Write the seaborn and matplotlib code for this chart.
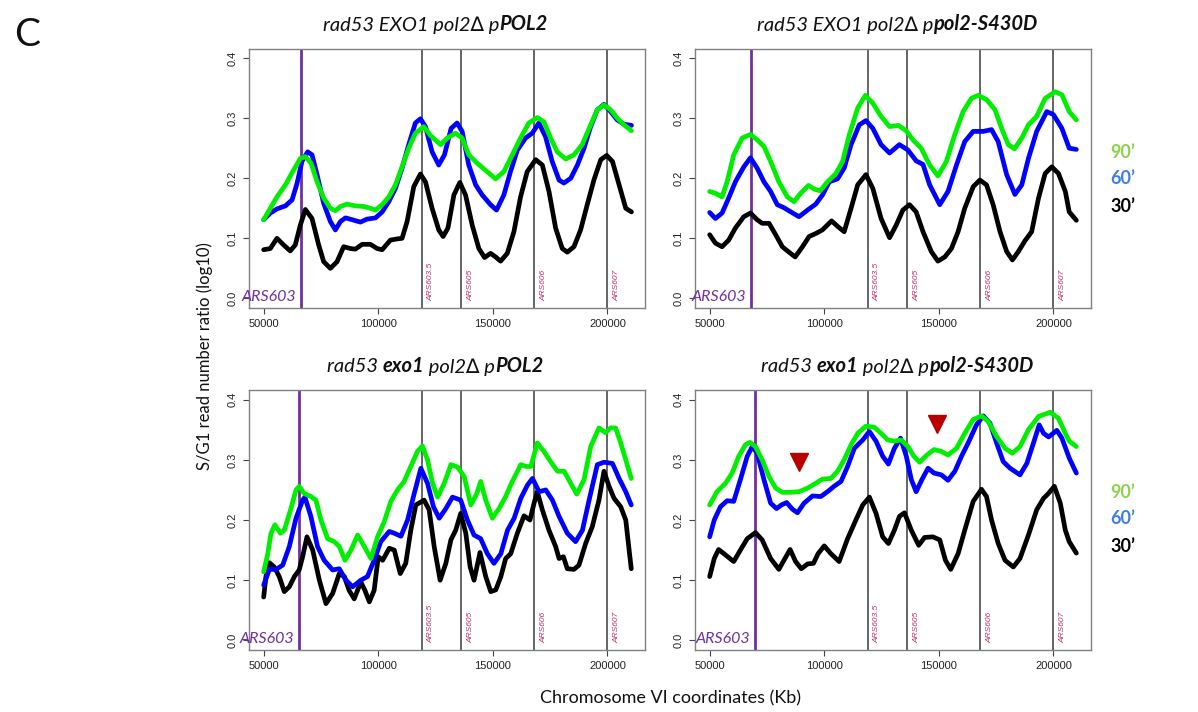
import numpy as np
import pandas as pd
import seaborn as sns
from matplotlib import pyplot as plt
from matplotlib import transforms

sns.set_theme(style="white")
plt.rcParams['font.family'] = ['Lato', 'DejaVu Sans']

# chromosome VI position (kb), S/G1 ratio (log10)
p1_30 = [(50, 0.081), (52.9, 0.083), (55.8, 0.100), (58.7, 0.089), (61.6, 0.079), (63.8, 0.089), (66.0, 0.122),
         (68.2, 0.148), (71.1, 0.133), (74.0, 0.089), (76.2, 0.061), (79.1, 0.050), (82.0, 0.061), (84.9, 0.086),
         (87.9, 0.083), (90.0, 0.082), (93.0, 0.090), (96.6, 0.090), (99.5, 0.083), (101.7, 0.081), (105.3, 0.097),
         (108.2, 0.099), (110.4, 0.100), (112.6, 0.128), (115.5, 0.186), (118.4, 0.207), (120.6, 0.194),
         (123.5, 0.150), (126.4, 0.114), (128.3, 0.103), (130.4, 0.117), (133.0, 0.172), (135.6, 0.193),
         (138.1, 0.172), (141.0, 0.122), (143.9, 0.083), (146.4, 0.068), (149.0, 0.075), (151.2, 0.069),
         (153.4, 0.062), (156.3, 0.075), (159.2, 0.111), (162.1, 0.169), (165.0, 0.211), (168.7, 0.231),
         (171.6, 0.222), (174.5, 0.178), (177.4, 0.117), (180.3, 0.083), (182.5, 0.077), (185.4, 0.086),
         (188.3, 0.114), (191.2, 0.156), (194.1, 0.197), (197.1, 0.231), (199.7, 0.238), (202.2, 0.228),
         (205.1, 0.189), (208.0, 0.150), (210.5, 0.144)]
p1_60 = [(50, 0.131), (52.9, 0.142), (55.8, 0.149), (59.5, 0.154), (62.4, 0.164), (64.6, 0.192), (66.7, 0.228),
         (69.2, 0.244), (71.1, 0.239), (73.3, 0.206), (76.2, 0.158), (79.1, 0.128), (81.3, 0.114), (83.5, 0.128),
         (85.7, 0.134), (88.6, 0.131), (92.2, 0.127), (95.1, 0.132), (98.8, 0.134), (101.7, 0.144), (104.6, 0.161),
         (107.5, 0.183), (110.4, 0.217), (113.3, 0.256), (116.2, 0.292), (118.4, 0.299), (120.6, 0.286),
         (123.5, 0.244), (126.4, 0.222), (128.9, 0.239), (131.8, 0.283), (134.4, 0.292), (136.6, 0.278),
         (139.5, 0.222), (142.5, 0.189), (145.4, 0.172), (149.0, 0.156), (151.6, 0.147), (154.8, 0.172),
         (157.7, 0.211), (160.7, 0.247), (164.3, 0.267), (167.2, 0.275), (170.1, 0.292), (173.0, 0.269),
         (175.9, 0.228), (178.9, 0.197), (181.0, 0.192), (184.0, 0.200), (186.9, 0.222), (189.8, 0.250),
         (192.7, 0.286), (195.6, 0.314), (198.5, 0.323), (201.4, 0.311), (204.3, 0.297), (207.2, 0.290),
         (210.5, 0.288)]
p1_90 = [(50, 0.131), (52.9, 0.150), (55.8, 0.169), (59.5, 0.189), (63.1, 0.214), (66.0, 0.233), (68.2, 0.236),
         (70.7, 0.225), (73.3, 0.194), (76.2, 0.167), (79.1, 0.150), (81.3, 0.146), (83.5, 0.153), (86.4, 0.157),
         (90.0, 0.154), (93.7, 0.153), (96.6, 0.150), (98.8, 0.147), (101.7, 0.156), (104.6, 0.169), (107.5, 0.189),
         (110.4, 0.219), (113.3, 0.250), (116.2, 0.275), (119.9, 0.286), (122.8, 0.271), (127.2, 0.256),
         (130.1, 0.267), (133.7, 0.275), (136.6, 0.267), (139.5, 0.239), (143.2, 0.225), (147.5, 0.211),
         (151.2, 0.199), (154.8, 0.211), (158.5, 0.239), (162.1, 0.267), (165.7, 0.292), (169.4, 0.301),
         (172.3, 0.294), (175.2, 0.267), (178.1, 0.244), (181.8, 0.232), (185.4, 0.239), (189.0, 0.256),
         (192.7, 0.289), (195.6, 0.314), (198.5, 0.322), (201.4, 0.314), (204.3, 0.300), (207.2, 0.289),
         (210.5, 0.279)]

p2_30 = [(50, 0.106), (52.5, 0.092), (55.4, 0.086), (58.3, 0.097), (61.2, 0.117), (64.9, 0.136), (67.8, 0.142),
         (70.7, 0.131), (72.9, 0.125), (75.9, 0.125), (78.8, 0.106), (81.7, 0.086), (84.6, 0.077), (87.3, 0.069),
         (90.5, 0.086), (93.4, 0.103), (96.3, 0.108), (99.2, 0.114), (103.2, 0.129), (106.1, 0.119), (108.7, 0.111),
         (111.7, 0.150), (114.6, 0.189), (118.2, 0.206), (121.2, 0.183), (124.8, 0.133), (128.5, 0.101),
         (131.4, 0.122), (134.3, 0.147), (137.2, 0.156), (140.1, 0.144), (143.1, 0.111), (146.7, 0.078),
         (149.6, 0.062), (152.6, 0.069), (155.5, 0.083), (158.4, 0.111), (161.3, 0.150), (165.0, 0.186),
         (167.9, 0.197), (170.8, 0.189), (173.7, 0.156), (176.7, 0.111), (179.6, 0.078), (182.1, 0.064),
         (184.7, 0.078), (187.6, 0.096), (190.5, 0.111), (193.5, 0.167), (196.4, 0.208), (199.3, 0.219),
         (202.2, 0.208), (205.2, 0.178), (206.9, 0.144), (210.0, 0.130)]
p2_60 = [(50, 0.143), (52.5, 0.133), (55.4, 0.142), (58.3, 0.167), (61.2, 0.194), (64.9, 0.219), (67.8, 0.234),
         (70.7, 0.217), (73.7, 0.194), (76.6, 0.178), (79.5, 0.156), (82.4, 0.151), (85.4, 0.144), (89.0, 0.136),
         (92.7, 0.147), (96.3, 0.157), (99.2, 0.172), (102.2, 0.194), (105.8, 0.199), (108.7, 0.217),
         (111.7, 0.256), (115.3, 0.289), (118.2, 0.296), (121.2, 0.283), (124.8, 0.256), (128.5, 0.242),
         (132.8, 0.256), (136.5, 0.247), (140.1, 0.229), (143.1, 0.223), (146.0, 0.189), (150.4, 0.156),
         (154.0, 0.178), (157.7, 0.222), (161.3, 0.261), (165.0, 0.278), (169.4, 0.278), (173.0, 0.281),
         (175.9, 0.261), (179.6, 0.206), (183.2, 0.173), (186.2, 0.189), (189.1, 0.233), (192.7, 0.278),
         (197.1, 0.311), (200.0, 0.306), (203.7, 0.283), (206.9, 0.250), (210.0, 0.248)]
p2_90 = [(50, 0.178), (52.5, 0.175), (55.4, 0.169), (57.6, 0.194), (60.5, 0.239), (64.2, 0.267), (67.8, 0.273),
         (70.7, 0.264), (73.7, 0.253), (76.6, 0.228), (80.2, 0.194), (83.9, 0.169), (86.8, 0.161), (89.7, 0.175),
         (93.1, 0.188), (95.6, 0.182), (98.2, 0.179), (101.4, 0.194), (105.1, 0.208), (108.0, 0.228),
         (110.9, 0.272), (114.6, 0.317), (117.9, 0.338), (121.2, 0.325), (124.8, 0.303), (128.5, 0.286),
         (132.4, 0.288), (135.8, 0.279), (138.7, 0.264), (142.3, 0.250), (146.0, 0.222), (149.6, 0.204),
         (153.3, 0.228), (156.9, 0.272), (160.6, 0.311), (164.2, 0.333), (167.2, 0.338), (170.8, 0.331),
         (174.5, 0.314), (177.4, 0.283), (180.3, 0.256), (183.0, 0.249), (186.2, 0.267), (189.1, 0.289),
         (192.7, 0.303), (196.4, 0.333), (200.8, 0.344), (203.7, 0.339), (206.9, 0.311), (210.0, 0.297)]

p3_30 = [(50, 0.072), (51.0, 0.106), (52.5, 0.129), (54.6, 0.122), (56.8, 0.106), (59.0, 0.081), (61.2, 0.089),
         (63.4, 0.106), (65.5, 0.117), (67.0, 0.139), (68.9, 0.172), (71.4, 0.150), (74.3, 0.100), (77.2, 0.061),
         (80.1, 0.078), (83.0, 0.111), (85.2, 0.106), (87.3, 0.083), (89.5, 0.069), (92.4, 0.097), (94.2, 0.083),
         (96.1, 0.064), (98.2, 0.083), (100.0, 0.139), (101.9, 0.133), (104.8, 0.153), (107.0, 0.150),
         (109.6, 0.111), (112.0, 0.128), (114.2, 0.183), (116.4, 0.225), (120.0, 0.233), (122.2, 0.217),
         (124.4, 0.156), (127.0, 0.100), (129.5, 0.128), (131.7, 0.167), (133.8, 0.183), (136.0, 0.211),
         (138.2, 0.178), (140.1, 0.122), (141.8, 0.100), (144.4, 0.146), (146.9, 0.106), (149.1, 0.081),
         (151.3, 0.084), (153.5, 0.106), (155.6, 0.136), (157.8, 0.144), (160.7, 0.178), (163.6, 0.207),
         (166.2, 0.200), (168.0, 0.228), (169.4, 0.247), (171.6, 0.217), (174.5, 0.183), (177.4, 0.156),
         (178.9, 0.136), (180.8, 0.139), (182.5, 0.119), (185.4, 0.118), (187.6, 0.125), (190.5, 0.161),
         (193.4, 0.189), (196.3, 0.233), (198.5, 0.281), (200.7, 0.256), (202.9, 0.236), (205.8, 0.222),
         (208.0, 0.200), (210.4, 0.119)]
p3_60 = [(50, 0.092), (52.5, 0.118), (55.4, 0.118), (58.3, 0.125), (61.2, 0.156), (64.1, 0.203), (67.0, 0.233),
         (68.0, 0.238), (70.6, 0.206), (73.5, 0.156), (76.4, 0.133), (80.1, 0.117), (83.0, 0.119), (85.9, 0.100),
         (88.8, 0.089), (92.4, 0.100), (95.3, 0.106), (98.2, 0.133), (101.1, 0.164), (104.8, 0.181), (107.0, 0.178),
         (109.9, 0.173), (112.8, 0.200), (115.7, 0.244), (118.6, 0.286), (121.5, 0.261), (124.1, 0.222),
         (126.6, 0.203), (129.5, 0.219), (132.4, 0.238), (136.0, 0.233), (138.9, 0.200), (141.8, 0.175),
         (144.7, 0.169), (147.6, 0.144), (150.5, 0.128), (153.5, 0.144), (156.4, 0.183), (159.3, 0.203),
         (162.2, 0.236), (165.1, 0.258), (167.3, 0.269), (170.2, 0.247), (173.1, 0.250), (176.0, 0.233),
         (178.9, 0.206), (182.5, 0.178), (186.1, 0.164), (189.1, 0.183), (192.0, 0.233), (195.6, 0.292),
         (198.5, 0.296), (202.2, 0.294), (205.1, 0.269), (208.0, 0.247), (210.4, 0.225)]
p3_90 = [(50, 0.114), (51.7, 0.142), (53.2, 0.178), (54.9, 0.192), (57.3, 0.178), (59.0, 0.183), (61.9, 0.219),
         (64.1, 0.250), (65.5, 0.256), (67.7, 0.244), (70.6, 0.239), (72.8, 0.233), (75.0, 0.200), (77.9, 0.169),
         (80.8, 0.164), (83.0, 0.156), (85.5, 0.133), (88.1, 0.150), (91.0, 0.175), (93.9, 0.156), (96.8, 0.136),
         (99.7, 0.172), (102.6, 0.197), (105.5, 0.231), (108.4, 0.250), (111.3, 0.264), (114.2, 0.289),
         (117.1, 0.314), (119.3, 0.323), (121.5, 0.300), (123.7, 0.261), (125.9, 0.238), (128.8, 0.261),
         (131.7, 0.292), (134.6, 0.288), (137.5, 0.272), (140.4, 0.225), (143.0, 0.244), (144.7, 0.264),
         (146.9, 0.233), (149.8, 0.203), (152.7, 0.219), (155.6, 0.239), (158.5, 0.264), (162.2, 0.292),
         (164.4, 0.289), (166.6, 0.289), (169.4, 0.328), (172.3, 0.314), (175.2, 0.297), (178.2, 0.281),
         (181.1, 0.281), (184.0, 0.261), (186.6, 0.243), (189.8, 0.267), (192.7, 0.322), (196.3, 0.353),
         (199.2, 0.345), (201.4, 0.353), (203.6, 0.353), (205.8, 0.328), (208.0, 0.300), (210.4, 0.269)]

p4_30 = [(50, 0.106), (52.0, 0.136), (53.9, 0.151), (56.9, 0.142), (60.5, 0.131), (63.4, 0.150), (66.4, 0.169),
         (70.0, 0.179), (72.9, 0.167), (76.6, 0.136), (80.2, 0.118), (82.4, 0.133), (85.1, 0.151), (87.5, 0.131),
         (90.0, 0.119), (92.7, 0.127), (95.3, 0.128), (97.3, 0.144), (100.0, 0.157), (102.9, 0.144), (106.5, 0.131),
         (110.2, 0.169), (113.8, 0.200), (116.8, 0.225), (119.7, 0.238), (122.6, 0.211), (125.5, 0.172),
         (128.0, 0.161), (130.6, 0.183), (132.8, 0.206), (135.0, 0.212), (138.0, 0.183), (141.2, 0.158),
         (143.8, 0.171), (147.4, 0.172), (150.4, 0.167), (152.9, 0.133), (155.2, 0.118), (158.4, 0.144),
         (161.3, 0.183), (165.0, 0.231), (168.6, 0.251), (170.8, 0.239), (173.0, 0.200), (175.9, 0.161),
         (178.9, 0.133), (182.5, 0.122), (185.4, 0.136), (189.1, 0.175), (192.7, 0.217), (195.7, 0.236),
         (197.8, 0.244), (200.4, 0.256), (203.0, 0.228), (205.2, 0.183), (206.9, 0.164), (210.0, 0.145)]
p4_60 = [(50, 0.172), (52.0, 0.200), (54.7, 0.222), (57.6, 0.232), (60.5, 0.231), (63.4, 0.267), (66.4, 0.306),
         (68.6, 0.322), (70.7, 0.311), (73.7, 0.267), (76.6, 0.228), (79.2, 0.219), (81.3, 0.225), (83.6, 0.229),
         (86.1, 0.218), (88.3, 0.212), (91.2, 0.228), (94.9, 0.240), (98.5, 0.239), (101.4, 0.247), (104.3, 0.256),
         (107.3, 0.264), (110.2, 0.289), (113.1, 0.319), (116.8, 0.333), (119.7, 0.347), (122.6, 0.331),
         (125.5, 0.306), (128.0, 0.293), (130.6, 0.319), (133.3, 0.336), (135.8, 0.306), (138.0, 0.267),
         (140.1, 0.247), (142.6, 0.267), (145.3, 0.286), (147.9, 0.278), (151.1, 0.275), (154.0, 0.266),
         (157.0, 0.281), (159.9, 0.306), (162.8, 0.328), (166.4, 0.358), (169.4, 0.373), (172.3, 0.361),
         (175.2, 0.328), (178.1, 0.297), (181.1, 0.286), (185.4, 0.275), (188.4, 0.294), (191.3, 0.328),
         (193.8, 0.358), (195.7, 0.344), (197.9, 0.338), (201.5, 0.349), (203.7, 0.336), (206.9, 0.303),
         (210.0, 0.278)]
p4_90 = [(50, 0.225), (53.2, 0.247), (56.9, 0.261), (59.8, 0.278), (62.7, 0.306), (65.6, 0.325), (67.5, 0.329),
         (70.0, 0.322), (72.9, 0.300), (75.9, 0.272), (78.8, 0.253), (81.7, 0.246), (85.4, 0.246), (89.0, 0.247),
         (92.7, 0.253), (96.3, 0.261), (99.2, 0.268), (102.9, 0.269), (105.8, 0.281), (108.7, 0.300),
         (111.7, 0.325), (114.6, 0.344), (118.2, 0.356), (121.9, 0.354), (124.8, 0.344), (127.7, 0.333),
         (130.6, 0.331), (133.6, 0.333), (136.5, 0.322), (139.1, 0.306), (141.6, 0.296), (144.5, 0.307),
         (147.9, 0.317), (151.1, 0.314), (154.0, 0.308), (157.7, 0.319), (161.3, 0.344), (165.0, 0.367),
         (168.6, 0.373), (171.5, 0.364), (175.2, 0.339), (178.9, 0.319), (182.1, 0.311), (185.4, 0.322),
         (189.1, 0.350), (193.5, 0.372), (198.6, 0.379), (202.2, 0.369), (205.2, 0.344), (206.9, 0.331),
         (210.0, 0.322)]

# red arrowheads in the last panel (kb, ratio)
p4_arrows = [(89.0, 0.297), (149.2, 0.359)]

ars_names = ['ARS603.5', 'ARS605', 'ARS606', 'ARS607']
ars_kb = [118.9, 136.1, 168.0, 199.8]
ars603_kb = [66.3, 68.1, 65.6, 69.6]

times = ['30', '60', '90']
line_colors = {'30': '#000000', '60': '#0000ff', '90': '#00ee00'}
legend_labels = ['90\u2019', '60\u2019', '30\u2019']
legend_colors = ['#8fd14f', '#3f7de8', '#000000']

titles = [
    [('rad53 EXO1 pol2\u2206 p', 'normal'), ('POL2', 'bold')],
    [('rad53 EXO1 pol2\u2206 p', 'normal'), ('pol2-S430D', 'bold')],
    [('rad53 ', 'normal'), ('exo1', 'bold'), (' pol2\u2206 p', 'normal'), ('POL2', 'bold')],
    [('rad53 ', 'normal'), ('exo1', 'bold'), (' pol2\u2206 p', 'normal'), ('pol2-S430D', 'bold')],
]

panels = [
    {'30': p1_30, '60': p1_60, '90': p1_90},
    {'30': p2_30, '60': p2_60, '90': p2_90},
    {'30': p3_30, '60': p3_60, '90': p3_90},
    {'30': p4_30, '60': p4_60, '90': p4_90},
]

W, H = 1198, 712
fig = plt.figure(figsize=(W / 100, H / 100), dpi=100)

# axes boxes in pixels: left, top, right, bottom
boxes = [(249, 48.5, 645, 308), (695, 48.5, 1091, 308),
         (249, 390, 645, 650), (695, 390, 1091, 650)]
title_pos = [(435, 25), (897, 25), (435, 367), (897, 367)]

tick_font = ['Liberation Sans', 'DejaVu Sans']


def rich_title(ax, xc, yc, pieces):
    first = ax.text(0, 1 - yc / H, pieces[0][0], transform=fig.transFigure, ha='left', va='center',
                    fontsize=14.5, style='italic', weight=pieces[0][1], color='#111111')
    texts = [first]
    prev = first
    for s, w in pieces[1:]:
        prev = ax.annotate(s, xy=(1, 0), xycoords=prev, ha='left', va='bottom', fontsize=14.5,
                           style='italic', weight=w, color='#111111', annotation_clip=False)
        texts.append(prev)
    fig.canvas.draw()
    r = fig.canvas.get_renderer()
    total = sum(t.get_window_extent(r).width for t in texts)
    first.set_x((xc - total / 2) / W)


for i, (box, data) in enumerate(zip(boxes, panels)):
    l, t, r, b = box
    ax = fig.add_axes([l / W, 1 - b / H, (r - l) / W, (b - t) / H])
    df = pd.concat([
        pd.DataFrame(data[k], columns=['kb', 'ratio']).assign(time=k) for k in times
    ])
    df['pos'] = df['kb'] * 1000

    for x in ars_kb:
        ax.axvline(x * 1000, color='#4a4a4a', lw=1.2, zorder=1)
    ax.axvline(ars603_kb[i] * 1000, color='#7030a0', lw=2, zorder=1)

    sns.lineplot(data=df, x='pos', y='ratio', hue='time', hue_order=times, palette=line_colors,
                 estimator=None, sort=False, linewidth=3.4, legend=False, ax=ax, zorder=3,
                 solid_capstyle='round', solid_joinstyle='round')

    lab_tr = transforms.offset_copy(ax.transData, fig=fig, x=4.3, y=0, units='points')
    for x, name in zip(ars_kb, ars_names):
        ax.text(x * 1000, -0.005, name, transform=lab_tr, rotation=90, ha='left', va='bottom',
                fontsize=6, style='italic', color='#c0306a', family=tick_font)
    lab603 = transforms.offset_copy(ax.transData, fig=fig, x=-3.5, y=0, units='points')
    ax.text(ars603_kb[i] * 1000, 0.003, 'ARS603', transform=lab603, ha='right', va='center',
            fontsize=11.5, style='italic', color='#7030a0')

    if i == 3:
        ax.plot([a[0] * 1000 for a in p4_arrows], [a[1] for a in p4_arrows], ls='none',
                marker='v', ms=13, color='#b80000', zorder=4)

    ax.set_xlim(43600, 216400)
    ax.set_ylim(-0.016, 0.416)
    ax.set_xticks([50000, 100000, 150000, 200000])
    ax.set_xticklabels(['50000', '100000', '150000', '200000'], family=tick_font)
    ax.set_yticks([0, 0.1, 0.2, 0.3, 0.4])
    ax.set_yticklabels(['0.0', '0.1', '0.2', '0.3', '0.4'], rotation=90, va='center', family=tick_font)
    ax.tick_params(direction='out', length=4, width=0.8, color='#444444', labelsize=8,
                   labelcolor='#222222', pad=4, bottom=True, left=True)
    ax.set_xlabel('')
    ax.set_ylabel('')
    for sp in ax.spines.values():
        sp.set_color('#808080')
        sp.set_linewidth(1)

    rich_title(ax, title_pos[i][0], title_pos[i][1], titles[i])

for y0 in (152, 492):
    for j, (lab, col) in enumerate(zip(legend_labels, legend_colors)):
        fig.text(1110 / W, 1 - (y0 + 27 * j) / H, lab, color=col, fontsize=13, weight='bold',
                 ha='left', va='center')

fig.text(205 / W, 1 - 356 / H, 'S/G1 read number ratio (log10)', rotation=90, ha='center', va='center',
         fontsize=12, color='#111111')
fig.text(671 / W, 1 - 698 / H, 'Chromosome VI coordinates (Kb)', ha='center', va='center',
         fontsize=13, color='#111111')
fig.text(27 / W, 1 - 35 / H, 'C', ha='center', va='center', fontsize=28, color='#111111')

fig.savefig('out.png', dpi=100)
